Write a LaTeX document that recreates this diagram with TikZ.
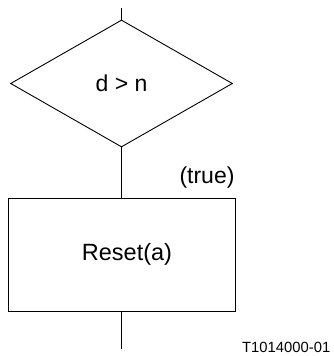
\documentclass[tikz,border=0pt]{standalone}
\usepackage{fontspec}
\setmainfont{Liberation Sans}
\usetikzlibrary{shapes.geometric}
\begin{document}
\begin{tikzpicture}[x=1pt,y=1pt,
  line/.style={line width=0.9pt},
  decision/.style={draw,line width=0.9pt,shape=diamond,minimum width=222pt,minimum height=127pt,inner sep=0pt,font=\fontsize{23}{27}\selectfont},
  action/.style={draw,line width=0.9pt,rectangle,minimum width=227pt,minimum height=113pt,inner sep=0pt,font=\fontsize{23.5}{28}\selectfont},
  lbl/.style={font=\fontsize{23}{27}\selectfont,inner sep=0pt},
  tag/.style={font=\fontsize{14.8}{18}\selectfont,inner sep=0pt}]
\useasboundingbox (0,0) rectangle (334,356);
\coordinate (in) at (121.5,348);
\node[decision] (dec) at (121.5,272.5) {d > n};
\node[action] (act) at (121.5,101.5) {\hspace{11pt}Reset(a)};
\coordinate (out) at (121.5,7);
\draw[line] (in) -- (dec.north);
\draw[line] (dec.south) -- (act.north);
\draw[line] (act.south) -- (out);
\node[lbl] (true) at (207,178) {(true)};
\node[tag,anchor=base west] (id) at (242,4) {T1014000-01};
\end{tikzpicture}
\end{document}
